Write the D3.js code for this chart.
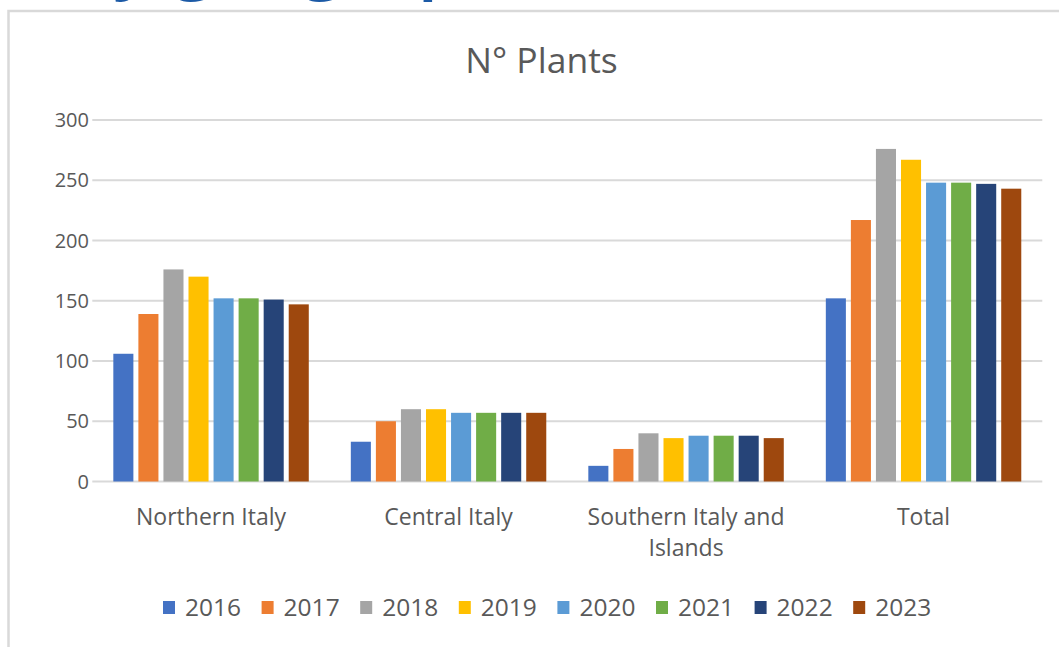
<!DOCTYPE html>
<html>
<head>
<meta charset="utf-8">
<script src="https://cdn.jsdelivr.net/npm/d3@7"></script>
<style>
  html, body { margin: 0; padding: 0; background: #fff; }
  svg { display: block; font-family: "Open Sans", sans-serif; }
</style>
</head>
<body>
<svg id="chart" width="1059" height="647"></svg>
<script>
var regions = ["Northern Italy", "Central Italy", "Southern Italy and Islands", "Total"]
var years = ["2016", "2017", "2018", "2019", "2020", "2021", "2022", "2023"]
var colors = ["#4472C4", "#ED7D31", "#A5A5A5", "#FFC000", "#5B9BD5", "#70AD47", "#264478", "#9E480E"]

var northern = [106, 139, 176, 170, 152, 152, 151, 147]
var central = [33, 50, 60, 60, 57, 57, 57, 57]
var southern = [13, 27, 40, 36, 38, 38, 38, 36]
var total = [152, 217, 276, 267, 248, 248, 247, 243]

var yTicks = [0, 50, 100, 150, 200, 250, 300]

var values = [northern, central, southern, total]
var rows = regions.map((r, i) => ({
  region: r,
  bars: years.map((yr, j) => ({ year: yr, value: values[i][j], color: colors[j] }))
}))

var svg = d3.select('#chart')
var textColor = "#595959"
var gridColor = "#d9d9d9"

// cut-off heading of the slide above the chart
svg.append("text")
   .attr("x", 68)
   .attr("y", -16)
   .attr("font-size", 74)
   .attr("font-weight", 600)
   .attr("fill", "#1c5aa6")
   .text("by geographical area")

// chart frame (left and top edges)
svg.append("path")
   .attr("d", "M8.5,647 V11 H1059")
   .attr("fill", "none")
   .attr("stroke", gridColor)
   .attr("stroke-width", 2.5)

var x0 = d3.scaleBand()
           .domain(regions)
           .range([92.3, 1042.3])
           .paddingInner(0.156)
           .paddingOuter(0.078)

var x1 = d3.scaleBand()
           .domain(years)
           .range([0, x0.bandwidth()])

var y = d3.scaleLinear()
          .domain([0, 300])
          .range([481.5, 120])

// gridlines
svg.append("g")
   .selectAll("line")
   .data(yTicks)
   .enter()
   .append("line")
   .attr("x1", 92.3)
   .attr("x2", 1042.3)
   .attr("y1", d => y(d))
   .attr("y2", d => y(d))
   .attr("stroke", gridColor)
   .attr("stroke-width", 2)

// y tick labels
svg.append("g")
   .selectAll("text")
   .data(yTicks)
   .enter()
   .append("text")
   .attr("x", 89)
   .attr("y", d => y(d) + 7)
   .attr("text-anchor", "end")
   .attr("font-size", 20)
   .attr("fill", textColor)
   .text(d => d)

// bars
var inset = 2.5
var groups = svg.append("g")
   .selectAll("g")
   .data(rows)
   .enter()
   .append("g")
   .attr("transform", d => `translate(${x0(d.region)},0)`)

groups.selectAll("rect")
      .data(d => d.bars)
      .enter()
      .append("rect")
      .attr("x", d => x1(d.year) + inset)
      .attr("width", x1.bandwidth() - 2 * inset)
      .attr("y", d => y(d.value))
      .attr("height", d => y(0) - y(d.value))
      .attr("fill", d => d.color)

// category labels
var catLabels = svg.append("g")
   .selectAll("text")
   .data(regions)
   .enter()
   .append("text")
   .attr("text-anchor", "middle")
   .attr("font-size", 23)
   .attr("fill", textColor)
   .attr("y", 525)

catLabels.each(function (d) {
  var lines = d == "Southern Italy and Islands" ? ["Southern Italy and", "Islands"] : [d]
  var t = d3.select(this)
  lines.forEach((l, i) => {
    t.append("tspan")
     .attr("x", x0(d) + x0.bandwidth() / 2)
     .attr("dy", i == 0 ? 0 : 31)
     .text(l)
  })
})

// title
svg.append("text")
   .attr("x", 541.5)
   .attr("y", 73)
   .attr("text-anchor", "middle")
   .attr("font-size", 35.5)
   .attr("fill", textColor)
   .text("N° Plants")

// legend
var legendStep = 98.6
var legendX = 163
var legend = svg.append("g")
   .selectAll("g")
   .data(years)
   .enter()
   .append("g")
   .attr("transform", (d, i) => `translate(${legendX + i * legendStep},0)`)

legend.append("rect")
      .attr("x", 0)
      .attr("y", 601)
      .attr("width", 12)
      .attr("height", 13)
      .attr("fill", (d, i) => colors[i])

legend.append("text")
      .attr("x", 22)
      .attr("y", 615.5)
      .attr("font-size", 24.5)
      .attr("fill", textColor)
      .text(d => d)
</script>
</body>
</html>
